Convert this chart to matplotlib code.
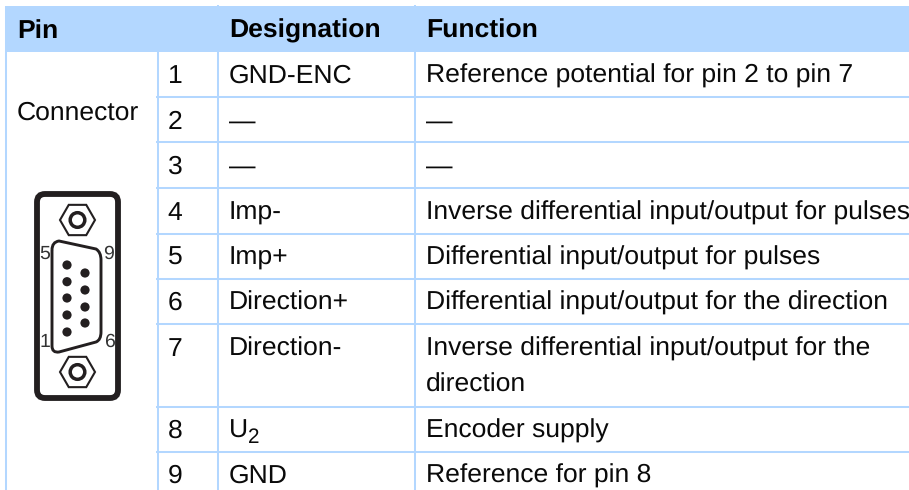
import matplotlib
matplotlib.use("Agg")
import matplotlib.pyplot as plt
from matplotlib.patches import Rectangle, Circle, RegularPolygon, FancyBboxPatch, PathPatch
from matplotlib.path import Path

plt.rcParams['font.family'] = ['Liberation Sans', 'DejaVu Sans']
plt.rcParams['text.hinting'] = 'no_hinting'
plt.rcParams['text.hinting_factor'] = 8

headers = ["Pin", "Designation", "Function"]
side_label = "Connector"
pins = ["1", "2", "3", "4", "5", "6", "7", "8", "9"]
designations = ["GND-ENC", "—", "—", "Imp-", "Imp+", "Direction+", "Direction-", "U", "GND"]
subscripts = ["", "", "", "", "", "", "", "2", ""]
functions = [
    "Reference potential for pin 2 to pin 7",
    "—",
    "—",
    "Inverse differential input/output for pulses",
    "Differential input/output for pulses",
    "Differential input/output for the direction",
    "Inverse differential input/output for the\ndirection",
    "Encoder supply",
    "Reference for pin 8",
]

BLUE = '#b3d7ff'
TXT = '#0a0a0a'
W, H = 909, 490
FS = 19.07
baselines = [82.6, 128.6, 173.6, 219.6, 264.6, 309.6, 355.6, 437.6, 482.6]
separators = [97, 142, 188, 234, 279, 324, 407, 452]
col_pin, col_des, col_fun = 167.5, 229, 426

fig = plt.figure(figsize=(W / 100, H / 100), dpi=100)
ax = fig.add_axes([0, 0, 1, 1])
ax.set_xlim(0, W)
ax.set_ylim(H, 0)
ax.axis('off')

ax.add_patch(Rectangle((6, 6), W - 6, 46, fc=BLUE, ec='none'))
for x, y0, y1 in [(6, 6, H), (157.5, 52, H), (218, 5, H), (415, 5, H)]:
    ax.plot([x, x], [y0, y1], color=BLUE, lw=1.45, solid_capstyle='butt')
for y in separators:
    ax.plot([156, W], [y, y], color=BLUE, lw=1.45, solid_capstyle='butt')

for x, t in zip([17, col_des, col_fun], headers):
    ax.text(x, 37.8, t, fontsize=FS, fontweight='bold', va='baseline', ha='left', color='black')
ax.text(17, 119.6, side_label, fontsize=FS, va='baseline', ha='left', color=TXT)

for b, p, d, s, f in zip(baselines, pins, designations, subscripts, functions):
    ax.text(col_pin, b, p, fontsize=FS, va='baseline', ha='left', color=TXT)
    ax.text(col_des, b, d, fontsize=FS, va='baseline', ha='left', color=TXT)
    if s:
        ax.text(col_des + 18.8, b + 5.8, s, fontsize=FS * 0.78, va='baseline', ha='left', color=TXT)
    for i, line in enumerate(f.split('\n')):
        ax.text(col_fun, b + 36 * i, line, fontsize=FS, va='baseline', ha='left', color=TXT)

# connector drawing
INK = '#231f20'
ax.add_patch(FancyBboxPatch((42, 199), 71, 194, boxstyle='round,pad=5,rounding_size=8',
                            fc='white', ec=INK, lw=4.2))
for cy in (220, 372):
    ax.add_patch(RegularPolygon((77.5, cy), 6, radius=17.5, orientation=3.14159 / 2,
                                fc='white', ec=INK, lw=1.5))
    ax.add_patch(Circle((77.5, cy), 7.3, fc='white', ec=INK, lw=2.5))
verts = [(52, 250), (52, 242), (59, 241), (96, 249), (101, 252), (101, 260), (101, 332),
         (101, 340), (96, 342), (59, 352), (52, 353), (52, 346), (52, 250)]
codes = [Path.MOVETO, Path.CURVE3, Path.CURVE3, Path.LINETO, Path.CURVE3, Path.CURVE3, Path.LINETO,
         Path.CURVE3, Path.CURVE3, Path.LINETO, Path.CURVE3, Path.CURVE3, Path.LINETO]
ax.add_patch(PathPatch(Path(verts, codes), fc='white', ec=INK, lw=2.1))
for cy in (265, 281.7, 298, 315, 332):
    ax.add_patch(Circle((67, cy), 4.6, fc=INK, ec='none'))
for cy in (273, 290, 307, 323):
    ax.add_patch(Circle((85, cy), 4.6, fc=INK, ec='none'))
for x, y, t in [(44.5, 259, '5'), (109, 259, '9'), (44.5, 347, '1'), (109, 347, '6')]:
    ax.text(x, y, t, fontsize=14, ha='center', va='baseline', color='#333333')

fig.savefig('out.png', dpi=100, facecolor='white')
